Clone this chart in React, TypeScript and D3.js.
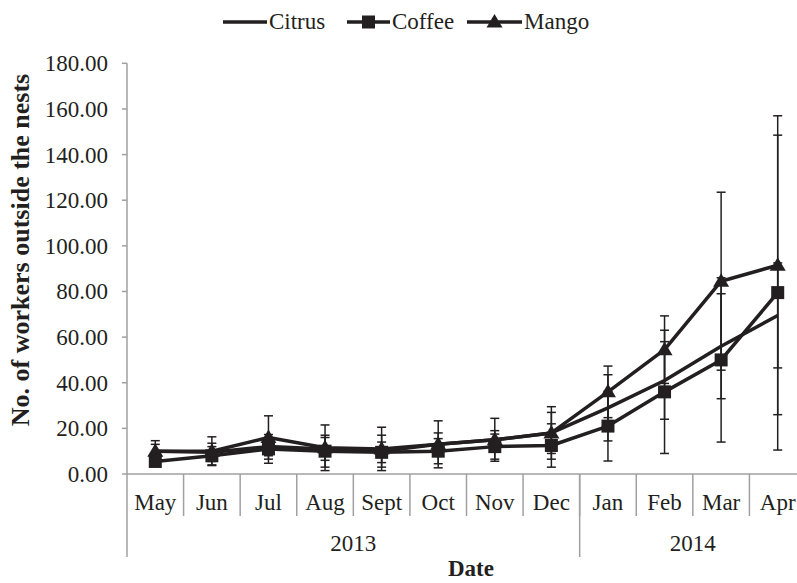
import * as d3 from "d3";

const months = ["May", "Jun", "Jul", "Aug", "Sept", "Oct", "Nov", "Dec", "Jan", "Feb", "Mar", "Apr"];
const years = ["2013", "2014"];
const yearSpans = [8, 4];
const yTicks = [0, 20, 40, 60, 80, 100, 120, 140, 160, 180];

const citrus = [10, 9.5, 12, 11, 10, 13, 15, 18, 29, 41, 56, 69.5];
const citrusErr = [3, 4, 4, 5, 7, 5, 4, 9, 14.5, 17, 23, 23];
const coffee = [5.5, 8, 11, 10, 9.5, 10, 12, 12.5, 21, 36, 50, 79.5];
const coffeeErr = [2, 4, 6.3, 7, 4.5, 5.5, 5.5, 9.5, 15.3, 27, 36, 69];
const mango = [10, 10, 16, 11.5, 11, 13, 15, 18, 36, 54.5, 84.5, 91.5];
const mangoErr = [4.6, 6.3, 9.5, 10, 9.5, 10.3, 9.4, 11.5, 11.3, 14.8, 39, 65.5];

const series = [
  { name: "Citrus", values: citrus, err: citrusErr, marker: "none" },
  { name: "Coffee", values: coffee, err: coffeeErr, marker: "square" },
  { name: "Mango", values: mango, err: mangoErr, marker: "triangle" },
];

const INK = "#231f20";
const AXIS = "#a0a0a0";
const FONT = "'Liberation Serif', 'Times New Roman', serif";

function Marker({ kind, cx, cy }: { kind: string; cx: number; cy: number }) {
  if (kind === "square") {
    return <rect x={cx - 6.5} y={cy - 6.5} width={13} height={13} fill={INK} />;
  }
  if (kind === "triangle") {
    return <path d={`M${cx},${cy - 8} L${cx + 8},${cy + 5.5} L${cx - 8},${cy + 5.5} Z`} fill={INK} />;
  }
  return null;
}

export default function App() {
  const W = 797;
  const H = 583;
  const left = 127;
  const right = 806;
  const top = 63.3;
  const bottom = 474;

  const x = d3.scaleBand().domain(months).range([left, right]);
  const y = d3.scaleLinear().domain([0, 180]).range([bottom, top]);
  const cx = (m: string) => (x(m) ?? 0) + x.bandwidth() / 2;

  const line = d3
    .line<number>()
    .x((_, i) => cx(months[i]))
    .y((d) => y(d));

  // year groups
  let acc = 0;
  const yearGroups = years.map((label, i) => {
    const start = acc;
    acc += yearSpans[i];
    const x0 = x(months[start]) ?? 0;
    const x1 = (x(months[acc - 1]) ?? 0) + x.bandwidth();
    return { label, x0, x1 };
  });

  const legendItems = [
    { name: "Citrus", marker: "none", x0: 223, x1: 267 },
    { name: "Coffee", marker: "square", x0: 347, x1: 390 },
    { name: "Mango", marker: "triangle", x0: 467, x1: 522 },
  ];

  return (
    <svg
      width={W}
      height={H}
      style={{ position: "absolute", left: 0, top: 0, background: "#fff" }}
      fontFamily={FONT}
    >
      {/* legend */}
      {legendItems.map((l) => (
        <g key={l.name}>
          <line x1={l.x0} x2={l.x1} y1={22} y2={22} stroke={INK} strokeWidth={3.5} />
          <Marker kind={l.marker} cx={(l.x0 + l.x1) / 2} cy={22} />
          <text x={l.x1 + 2} y={29} fontSize={23} fill={INK}>
            {l.name}
          </text>
        </g>
      ))}

      {/* y axis */}
      <line x1={left} x2={left} y1={top} y2={557} stroke={AXIS} strokeWidth={1.5} />
      {yTicks.map((t) => (
        <g key={t}>
          <line x1={left - 5} x2={left} y1={y(t)} y2={y(t)} stroke={AXIS} strokeWidth={1.5} />
          <text x={108} y={y(t) + 8} textAnchor="end" fontSize={23} fill={INK}>
            {d3.format(".2f")(t)}
          </text>
        </g>
      ))}
      <text
        transform={`translate(29,250) rotate(-90)`}
        textAnchor="middle"
        fontSize={26}
        fontWeight="bold"
        fill={INK}
      >
        No. of workers outside the nests
      </text>

      {/* x axis */}
      <line x1={left} x2={right} y1={bottom} y2={bottom} stroke={AXIS} strokeWidth={1.5} />
      {months.map((m, i) =>
        i === 0 ? null : (
          <line
            key={m}
            x1={x(m)}
            x2={x(m)}
            y1={bottom}
            y2={516}
            stroke={AXIS}
            strokeWidth={1.5}
          />
        )
      )}
      {months.map((m) => (
        <text key={m} x={cx(m)} y={510} textAnchor="middle" fontSize={23} fill={INK}>
          {m}
        </text>
      ))}
      {yearGroups.map((g, i) => (
        <g key={g.label}>
          {i > 0 && (
            <line x1={g.x0} x2={g.x0} y1={bottom} y2={557} stroke={AXIS} strokeWidth={1.5} />
          )}
          <text x={(g.x0 + g.x1) / 2} y={551} textAnchor="middle" fontSize={23} fill={INK}>
            {g.label}
          </text>
        </g>
      ))}
      <text x={471} y={576} textAnchor="middle" fontSize={23} fontWeight="bold" fill={INK}>
        Date
      </text>

      {/* error bars */}
      {series.map((s) =>
        s.values.map((v, i) => {
          const px = cx(months[i]);
          const hi = y(v + s.err[i]);
          const lo = y(Math.max(0, v - s.err[i]));
          return (
            <g key={`${s.name}-e${i}`} stroke={INK} strokeWidth={1.5}>
              <line x1={px} x2={px} y1={hi} y2={lo} />
              <line x1={px - 4.5} x2={px + 4.5} y1={hi} y2={hi} />
              <line x1={px - 4.5} x2={px + 4.5} y1={lo} y2={lo} />
            </g>
          );
        })
      )}

      {/* lines and markers */}
      {series.map((s) => (
        <g key={s.name}>
          <path d={line(s.values) ?? ""} fill="none" stroke={INK} strokeWidth={3.5} strokeLinejoin="round" />
          {s.values.map((v, i) => (
            <Marker key={i} kind={s.marker} cx={cx(months[i])} cy={y(v)} />
          ))}
        </g>
      ))}
    </svg>
  );
}
